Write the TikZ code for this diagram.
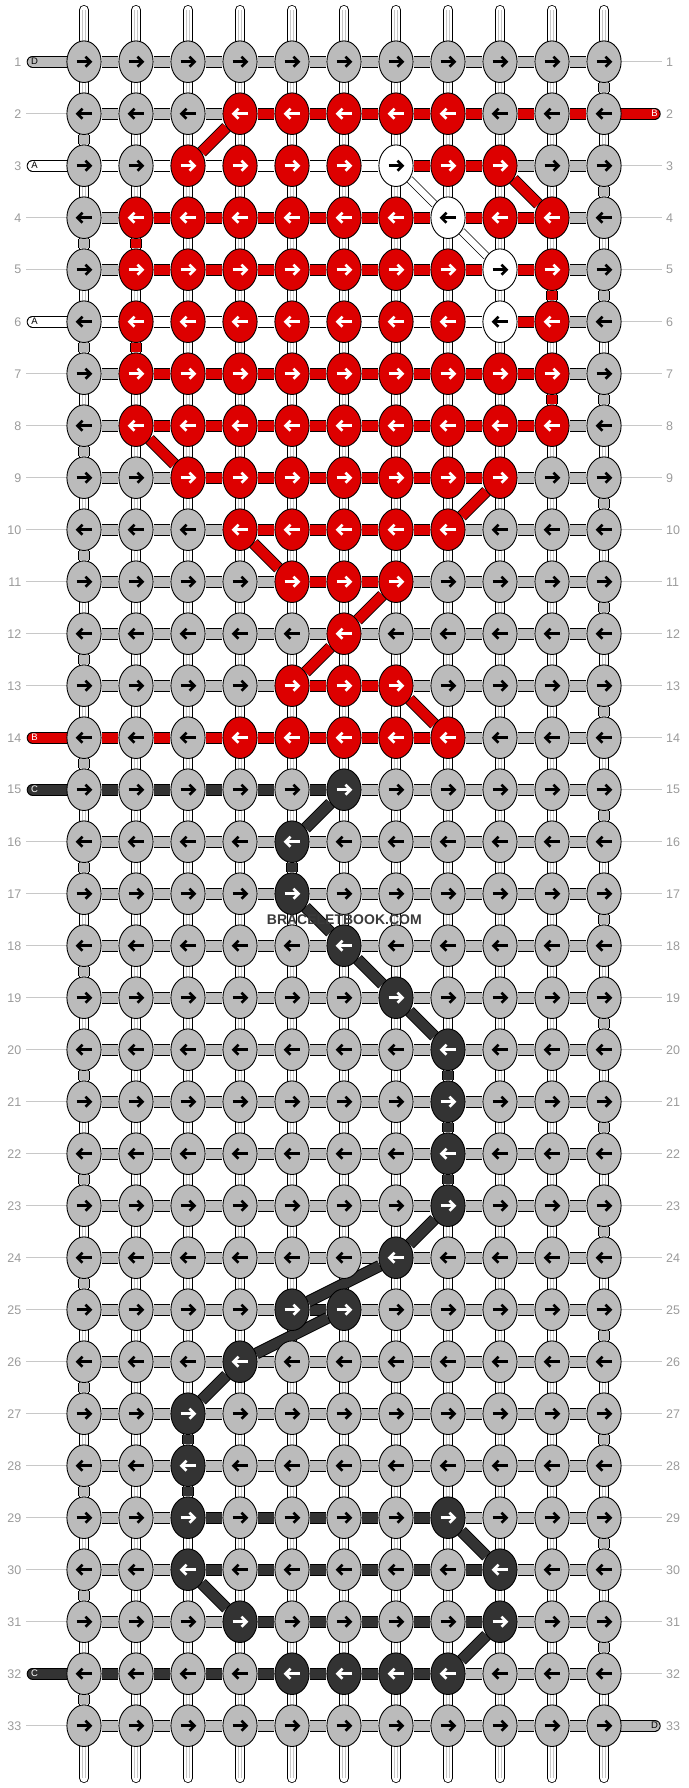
\documentclass[tikz,border=0pt]{standalone}
\usepackage{fontspec}
\setmainfont{Liberation Sans}
\usetikzlibrary{shapes.geometric}

\definecolor{knotg}{RGB}{187,187,187}
\definecolor{knotr}{RGB}{221,0,0}
\definecolor{knotd}{RGB}{51,51,51}
\definecolor{knotw}{RGB}{255,255,255}
\colorlet{arrg}{black}
\colorlet{arrr}{white}
\colorlet{arrd}{white}
\colorlet{arrw}{black}
\definecolor{numgray}{RGB}{155,155,155}
\definecolor{numline}{RGB}{200,200,200}
\definecolor{wmark}{RGB}{58,58,58}

\pgfdeclarelayer{strings}
\pgfsetlayers{strings,main}

\tikzset{
  knot/.style={ellipse, draw=black, line width=0.9pt, fill=#1,
    minimum width=34.2pt, minimum height=41.6pt, inner sep=0pt},
  thread/.style={draw=black, line width=0.9pt, double=#1, double distance=10pt},
  thinthread/.style={draw=black, line width=0.7pt, double=#1, double distance=6.5pt},
  basestring/.style={draw=black, line width=0.8pt, double=white, double distance=8.4pt, line cap=round},
  basestripe/.style={draw=black!22, line width=0.7pt},
  rowline/.style={draw=numline, line width=1pt},
  rownum/.style={text=numgray, font=\fontsize{12.5}{14}\selectfont, inner sep=0pt},
  stubtext/.style={font=\fontsize{9.5}{11}\selectfont, inner sep=0pt},
  pics/knotarrow/.style 2 args={code={
    \draw[color=#2, line width=2.6pt] ({-7.5*#1},0) -- ({6*#1},0);
    \draw[color=#2, line width=2.6pt, line join=miter] ({1.5*#1},-5) -- ({6.5*#1},0) -- ({1.5*#1},5);
  }},
}

\begin{document}
\begin{tikzpicture}[x=1pt, y=-1pt]
\useasboundingbox (0,0) rectangle (688,1788);

% knots
\foreach \row [count=\r] in {
  {g,g,g,g,g,g,g,g,g,g,g},
  {g,g,g,r,r,r,r,r,g,g,g},
  {g,g,r,r,r,r,w,r,r,g,g},
  {g,r,r,r,r,r,r,w,r,r,g},
  {g,r,r,r,r,r,r,r,w,r,g},
  {g,r,r,r,r,r,r,r,w,r,g},
  {g,r,r,r,r,r,r,r,r,r,g},
  {g,r,r,r,r,r,r,r,r,r,g},
  {g,g,r,r,r,r,r,r,r,g,g},
  {g,g,g,r,r,r,r,r,g,g,g},
  {g,g,g,g,r,r,r,g,g,g,g},
  {g,g,g,g,g,r,g,g,g,g,g},
  {g,g,g,g,r,r,r,g,g,g,g},
  {g,g,g,r,r,r,r,r,g,g,g},
  {g,g,g,g,g,d,g,g,g,g,g},
  {g,g,g,g,d,g,g,g,g,g,g},
  {g,g,g,g,d,g,g,g,g,g,g},
  {g,g,g,g,g,d,g,g,g,g,g},
  {g,g,g,g,g,g,d,g,g,g,g},
  {g,g,g,g,g,g,g,d,g,g,g},
  {g,g,g,g,g,g,g,d,g,g,g},
  {g,g,g,g,g,g,g,d,g,g,g},
  {g,g,g,g,g,g,g,d,g,g,g},
  {g,g,g,g,g,g,d,g,g,g,g},
  {g,g,g,g,d,d,g,g,g,g,g},
  {g,g,g,d,g,g,g,g,g,g,g},
  {g,g,d,g,g,g,g,g,g,g,g},
  {g,g,d,g,g,g,g,g,g,g,g},
  {g,g,d,g,g,g,g,d,g,g,g},
  {g,g,d,g,g,g,g,g,d,g,g},
  {g,g,g,d,g,g,g,g,d,g,g},
  {g,g,g,g,d,d,d,d,g,g,g},
  {g,g,g,g,g,g,g,g,g,g,g}}{
  \pgfmathsetmacro\dir{mod(\r,2)==1 ? 1 : -1}
  \foreach \kc [count=\c] in \row {
    \node[knot=knot\kc] (k-\r-\c) at ({84+52*(\c-1)},{61.7+52*(\r-1)}) {};
    \pic at (k-\r-\c) {knotarrow={\dir}{arr\kc}};
  }
}

\begin{pgfonlayer}{strings}
  \foreach \c in {1,...,11}{
    \coordinate (top-\c) at ({84+52*(\c-1)},10);
    \coordinate (bot-\c) at ({84+52*(\c-1)},1778);
    \draw[basestring] (top-\c) -- (bot-\c);
    \draw[basestripe] ([xshift=-1.3pt]top-\c) -- ([xshift=-1.3pt]bot-\c);
    \draw[basestripe] ([xshift=1.3pt]top-\c) -- ([xshift=1.3pt]bot-\c);
  }

  % threads along the rows
  \foreach \row [count=\r] in {
    {g,g,g,g,g,g,g,g,g,g},
    {g,g,g,r,r,r,r,r,r,r},
    {w,w,w,w,w,w,r,r,g,g},
    {g,r,r,r,r,r,r,r,r,g},
    {g,r,r,r,r,r,r,r,r,g},
    {w,w,w,w,w,w,w,w,r,g},
    {g,r,r,r,r,r,r,r,r,g},
    {g,r,r,r,r,r,r,r,r,g},
    {g,g,r,r,r,r,r,r,g,g},
    {g,g,g,r,r,r,r,g,g,g},
    {g,g,g,g,r,r,g,g,g,g},
    {g,g,g,g,g,g,g,g,g,g},
    {g,g,g,g,r,r,g,g,g,g},
    {r,r,r,r,r,r,r,g,g,g},
    {d,d,d,d,d,g,g,g,g,g},
    {g,g,g,g,g,g,g,g,g,g},
    {g,g,g,g,g,g,g,g,g,g},
    {g,g,g,g,g,g,g,g,g,g},
    {g,g,g,g,g,g,g,g,g,g},
    {g,g,g,g,g,g,g,g,g,g},
    {g,g,g,g,g,g,g,g,g,g},
    {g,g,g,g,g,g,g,g,g,g},
    {g,g,g,g,g,g,g,g,g,g},
    {g,g,g,g,g,g,g,g,g,g},
    {g,g,g,g,d,g,g,g,g,g},
    {g,g,g,g,g,g,g,g,g,g},
    {g,g,g,g,g,g,g,g,g,g},
    {g,g,g,g,g,g,g,g,g,g},
    {g,g,d,d,d,d,d,g,g,g},
    {g,g,d,d,d,d,d,d,g,g},
    {g,g,g,d,d,d,d,d,g,g},
    {d,d,d,d,d,d,d,g,g,g},
    {g,g,g,g,g,g,g,g,g,g}}{
    \foreach \sc [count=\c] in \row {
      \pgfmathtruncatemacro\n{\c+1}
      \draw[thread=knot\sc] (k-\r-\c) -- (k-\r-\n);
    }
  }

  % turns at the edges
  \foreach \r in {1,3,...,31}{
    \pgfmathtruncatemacro\n{\r+1}
    \draw[thread=knotg] (k-\r-11) -- (k-\n-11);
  }
  \foreach \r in {2,4,...,32}{
    \pgfmathtruncatemacro\n{\r+1}
    \draw[thread=knotg] (k-\r-1) -- (k-\n-1);
  }

  % threads between rows
  \foreach \ra/\ca/\rb/\cb/\sc in {2/4/3/3/r, 3/9/4/10/r, 4/2/5/2/r, 5/10/6/10/r,
      6/2/7/2/r, 7/10/8/10/r, 8/2/9/3/r, 9/9/10/8/r, 10/4/11/5/r, 11/7/12/6/r,
      12/6/13/5/r, 13/7/14/8/r,
      15/6/16/5/d, 16/5/17/5/d, 17/5/18/6/d, 18/6/19/7/d, 19/7/20/8/d,
      20/8/21/8/d, 21/8/22/8/d, 22/8/23/8/d, 23/8/24/7/d, 24/7/25/5/d,
      25/6/26/4/d, 26/4/27/3/d, 27/3/28/3/d, 28/3/29/3/d, 29/8/30/9/d,
      30/3/31/4/d, 31/9/32/8/d}
    \draw[thread=knot\sc] (k-\ra-\ca) -- (k-\rb-\cb);
  \draw[thinthread=white] (k-3-7) -- (k-4-8);
  \draw[thinthread=white] (k-4-8) -- (k-5-9);

  % loose ends
  \foreach \r/\sc in {1/g, 3/w, 6/w, 14/r, 15/d, 32/d}{
    \coordinate (stub-l-\r) at (32.6,{61.7+52*(\r-1)});
    \draw[thread=knot\sc, line cap=round] (stub-l-\r) -- (k-\r-1);
  }
  \foreach \r/\sc in {2/r, 33/g}{
    \coordinate (stub-r-\r) at (654.8,{61.7+52*(\r-1)});
    \draw[thread=knot\sc, line cap=round] (stub-r-\r) -- (k-\r-11);
  }
  \foreach \r in {2,4,5,7,8,9,10,11,12,13,16,17,...,31,33}{
    \coordinate (line-l-\r) at (26,{61.7+52*(\r-1)});
    \draw[rowline] (line-l-\r) -- (k-\r-1);
  }
  \foreach \r in {1,3,4,...,32}{
    \coordinate (line-r-\r) at (662,{61.7+52*(\r-1)});
    \draw[rowline] (k-\r-11) -- (line-r-\r);
  }
\end{pgfonlayer}

\foreach \r/\lab/\tc in {1/D/black, 3/A/black, 6/A/black, 14/B/white, 15/C/white, 32/C/white}
  \node[stubtext, text=\tc] (let-l-\r) at (34.5,{61.7+52*(\r-1)}) {\lab};
\foreach \r/\lab/\tc in {2/B/white, 33/D/black}
  \node[stubtext, text=\tc] (let-r-\r) at (654.5,{61.7+52*(\r-1)}) {\lab};

\foreach \r in {1,...,33}{
  \node[rownum, anchor=east] (num-l-\r) at (21.5,{61.7+52*(\r-1)}) {\r};
  \node[rownum, anchor=west] (num-r-\r) at (666,{61.7+52*(\r-1)}) {\r};
}

\node[font=\bfseries\fontsize{14}{16}\selectfont, text=wmark, inner sep=0pt] (mark) at (344.3,919.3) {BRACELETBOOK.COM};
\end{tikzpicture}
\end{document}
